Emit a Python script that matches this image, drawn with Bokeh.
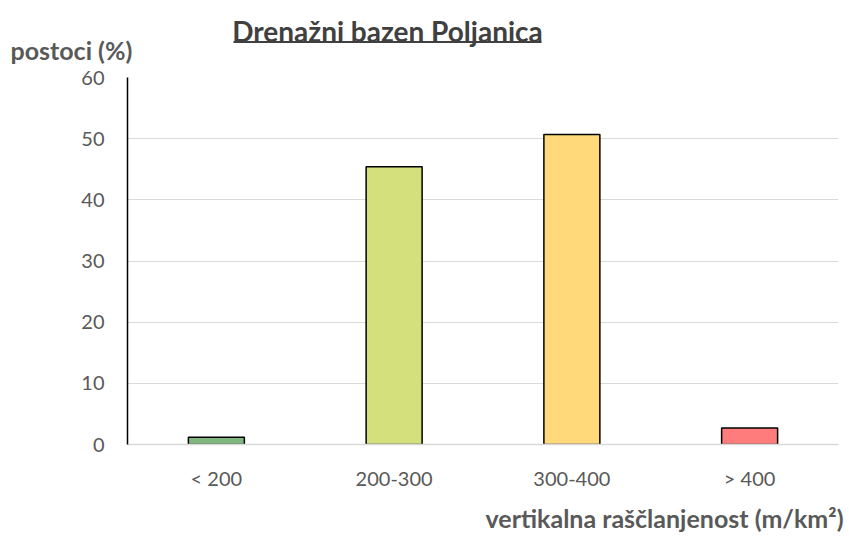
from bokeh.plotting import figure
from bokeh.layouts import column
from bokeh.models import FactorRange, Label, FixedTicker, ColumnDataSource, Range1d
from bokeh.embed import file_html
from bokeh.resources import INLINE

categories = ["< 200", "200-300", "300-400", "> 400"]
values = [1.2, 45.4, 50.7, 2.7]
colors = ["#7fb77e", "#d4e07c", "#ffd97a", "#ff7c7c"]
y_ticks = [0, 10, 20, 30, 40, 50, 60]
title_text = "Drenažni bazen Poljanica"
y_label_text = "postoci (%)"
x_label_text = "vertikalna raščlanjenost (m/km²)"

FONT = "Lato"
W = 849
TOP_H, MAIN_H, BOT_H = 65, 427, 44


def blank(h):
    f = figure(width=W, height=h, x_range=Range1d(0, W), y_range=Range1d(0, h),
               output_backend="svg", toolbar_location=None, frame_align=False,
               min_border=0, min_border_left=0, min_border_right=0,
               min_border_top=0, min_border_bottom=0)
    f.axis.visible = False
    f.grid.visible = False
    f.outline_line_color = None
    return f


# --- top strip: title (underlined) and y-axis label
top = blank(TOP_H)
top.add_layout(Label(x=387, y=TOP_H - 30, text=title_text, text_align="center",
                     text_baseline="middle", text_font=FONT, text_font_size="28px",
                     text_font_style="bold", text_color="#404040"))
top.segment(x0=[233], y0=[TOP_H - 41.5], x1=[541], y1=[TOP_H - 41.5],
            line_color="#404040", line_width=2)
top.add_layout(Label(x=10, y=TOP_H - 49, text=y_label_text, text_align="left",
                     text_baseline="middle", text_font=FONT, text_font_size="25px",
                     text_font_style="bold", text_color="#595959"))

# --- main chart
p = figure(width=W, height=MAIN_H, x_range=FactorRange(*categories), y_range=(0, 60),
           output_backend="svg", toolbar_location=None, frame_align=False,
           min_border_left=127, min_border_right=11, min_border_top=12, min_border_bottom=45)
p.outline_line_color = None

src = ColumnDataSource(dict(x=categories, top=values, color=colors))
p.vbar(x="x", top="top", width=0.315, fill_color="color", line_color="black",
       line_width=1.5, source=src)

p.xgrid.grid_line_color = None
p.ygrid.grid_line_color = "#d9d9d9"
p.ygrid.grid_line_width = 1

p.yaxis.ticker = FixedTicker(ticks=y_ticks)
p.yaxis.axis_line_color = "black"
p.yaxis.axis_line_width = 1.5
p.yaxis.major_tick_line_color = None
p.yaxis.major_tick_out = 0
p.yaxis.minor_tick_line_color = None
p.yaxis.major_label_text_font = FONT
p.yaxis.major_label_text_font_size = "20px"
p.yaxis.major_label_text_color = "#595959"
p.yaxis.major_label_standoff = 23

p.xaxis.axis_line_color = "#d9d9d9"
p.xaxis.axis_line_width = 1.5
p.xaxis.major_tick_line_color = None
p.xaxis.major_tick_out = 0
p.xaxis.minor_tick_line_color = None
p.xaxis.major_label_text_font = FONT
p.xaxis.major_label_text_font_size = "20px"
p.xaxis.major_label_text_color = "#595959"
p.xaxis.major_label_standoff = 21

# --- bottom strip: x-axis label
bot = blank(BOT_H)
bot.add_layout(Label(x=843, y=BOT_H - 25, text=x_label_text, text_align="right",
                     text_baseline="middle", text_font=FONT, text_font_size="25px",
                     text_font_style="bold", text_color="#595959"))

layout = column(top, p, bot, spacing=0)
open("out.html", "w").write(file_html(layout, INLINE))
